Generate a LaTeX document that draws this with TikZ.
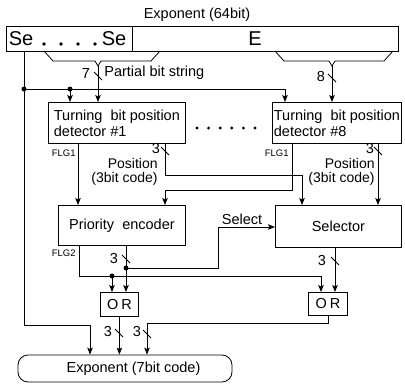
\documentclass[tikz,border=0pt]{standalone}
\usepackage{fontspec}
\setmainfont{Liberation Sans}
\usetikzlibrary{arrows.meta,calc}
\begin{document}
\begin{tikzpicture}[x=1pt,y=-1pt,
  line width=0.8pt,
  every node/.style={font=\fontsize{14.5}{16}\selectfont, inner sep=0pt},
  box/.style={draw, rectangle, anchor=north west},
  flow/.style={draw, -{Stealth[length=7pt,width=5.5pt,inset=1.5pt]}},
  junc/.style={circle, fill, minimum size=5pt, inner sep=0pt},
  tiny/.style={font=\fontsize{9.5}{10}\selectfont},
  big/.style={font=\fontsize{20}{20}\selectfont},
  poslabel/.style={anchor=north east, align=right, font=\fontsize{14}{14}\selectfont},
]
\useasboundingbox (0,0) rectangle (405,384);

% ---- 64-bit exponent register ----
\node (title) at (197,15) {Exponent (64bit)};
\node[box, minimum width=126pt, minimum height=25pt] (sebox) at (6,26) {};
\node[box, minimum width=266pt, minimum height=25pt] (ebox) at (132,26) {};
\node[big] (se1) at (21,39) {Se};
\node[big] (se2) at (114,39) {Se};
\foreach \x in {44,61,78,95} \fill (\x,44) circle (1.8pt);
\node[big] (ee) at (255,39) {E};

% braces selecting the partial bit strings
\coordinate (tipL) at (98,66);
\coordinate (tipR) at (332,66);
\draw (44,51) -- (53,61) -- (95,61) -- (tipL) -- (101,61) -- (151,61) -- (160,51);
\draw (275,51) -- (284,61) -- (329,61) -- (tipR) -- (335,61) -- (384,61) -- (393,51);

% ---- detectors ----
\node[box, minimum width=137pt, minimum height=41pt, align=left] (det1) at (48,102)
  {Turning\ \ bit position\\detector \#1};
\node[box, minimum width=129pt, minimum height=41pt, align=left] (det8) at (272,102)
  {Turning\ \ bit position\\detector \#8};
\foreach \x in {197,208.6,220.2,231.8,243.4,255} \fill (\x,128) circle (1.6pt);

% ---- encoder / selector ----
\node[box, minimum width=127pt, minimum height=40pt] (pe) at (58,205) {Priority\ \ encoder};
\node[box, minimum width=126pt, minimum height=42pt] (sel) at (275,205) {Selector};

% ---- OR gates ----
\node[box, minimum width=38pt, minimum height=24pt] (orL) at (100,292) {O\hspace{3pt}R};
\node[box, minimum width=39pt, minimum height=23pt] (orR) at (308,292) {O\hspace{3pt}R};

% ---- 7-bit result ----
\node[draw, rounded corners=10pt, minimum width=214pt, minimum height=27pt] (out) at (125,368.5)
  {\hspace*{17pt}Exponent (7bit code)};

% ---- lane coordinates ----
\coordinate (seX) at (24,0);
\coordinate (seJ) at (24,89);
\coordinate (seJ1) at (70,89);
\coordinate (seD8) at (285,89);
\coordinate (seBend) at (90,325);
\coordinate (xA) at (78,0);
\coordinate (xB) at (165,0);
\coordinate (bendP) at (302,175);
\coordinate (xD) at (292,0);
\coordinate (bendF) at (165,190);
\coordinate (xE) at (378,0);
\coordinate (xF) at (126,0);
\coordinate (selJ) at (126,268);
\coordinate (selK) at (218,227);
\coordinate (xG) at (79,0);
\coordinate (flgJ) at (112,276);
\coordinate (flg2R) at (321,276);
\coordinate (xH) at (335,0);
\coordinate (orRbend) at (147,323);

% sign-extension bit
\draw[flow] (sebox.south -| seX) |- (seBend) -- (seBend |- out.north);
\draw[flow] (seJ) -- (seD8) -- (seD8 |- det8.north);
\draw[flow] (seJ1) -- (seJ1 |- det1.north);
\node[junc] at (seJ) {};
\node[junc] at (seJ1) {};

% partial bit strings
\draw[flow] (tipL) -- (tipL |- det1.north);
\draw[flow] (tipR) -- (tipR |- det8.north);
\draw (94,72) -- (102,80);
\node (n7) at (86,74) {7};
\node[anchor=west] (pbs) at (104,73) {Partial bit string};
\draw (328,74) -- (336,82);
\node (n8) at (321,77) {8};

% detector outputs
\draw[flow] (det1.south -| xA) -- (pe.north -| xA);
\node[tiny, anchor=east] at (76,153) {FLG1};
\draw[flow] (det1.south -| xB) |- (bendP) -- (bendP |- sel.north);
\draw (161,147) -- (169,155);
\node at (156,149) {3};
\node[poslabel] at (158,158) {Position\\(3bit code)};

\draw[flow] (det8.south -| xD) |- (bendF) -- (bendF |- pe.north);
\node[tiny, anchor=east] at (289,153) {FLG1};
\draw[flow] (det8.south -| xE) -- (sel.north -| xE);
\draw (374,147) -- (382,155);
\node at (370,149) {3};
\node[poslabel] at (375,158) {Position\\(3bit code)};

% priority encoder outputs
\draw[flow] (pe.south -| xF) -- (orL.north -| xF);
\draw (122,255) -- (130,263);
\node at (114,259) {3};
\draw[flow] (selJ) -| (selK) -- (selK -| sel.west);
\node[junc] at (selJ) {};
\node at (242,219) {Select};

\draw[flow] (pe.south -| xG) |- (flg2R) -- (flg2R |- orR.north);
\node[tiny, anchor=east] at (76,253) {FLG2};
\draw[flow] (flgJ) -- (flgJ |- orL.north);
\node[junc] at (flgJ) {};

% selector output
\draw[flow] (sel.south -| xH) -- (orR.north -| xH);
\draw (331,257) -- (339,265);
\node at (322,261) {3};

% OR outputs
\draw[flow] (orL.south) -- (orL.south |- out.north);
\draw (115,329) -- (123,337);
\node at (108,332) {3};
\draw[flow] (orR.south) |- (orRbend) -- (orRbend |- out.north);
\draw (143,330) -- (151,338);
\node at (137,332) {3};
\end{tikzpicture}
\end{document}
